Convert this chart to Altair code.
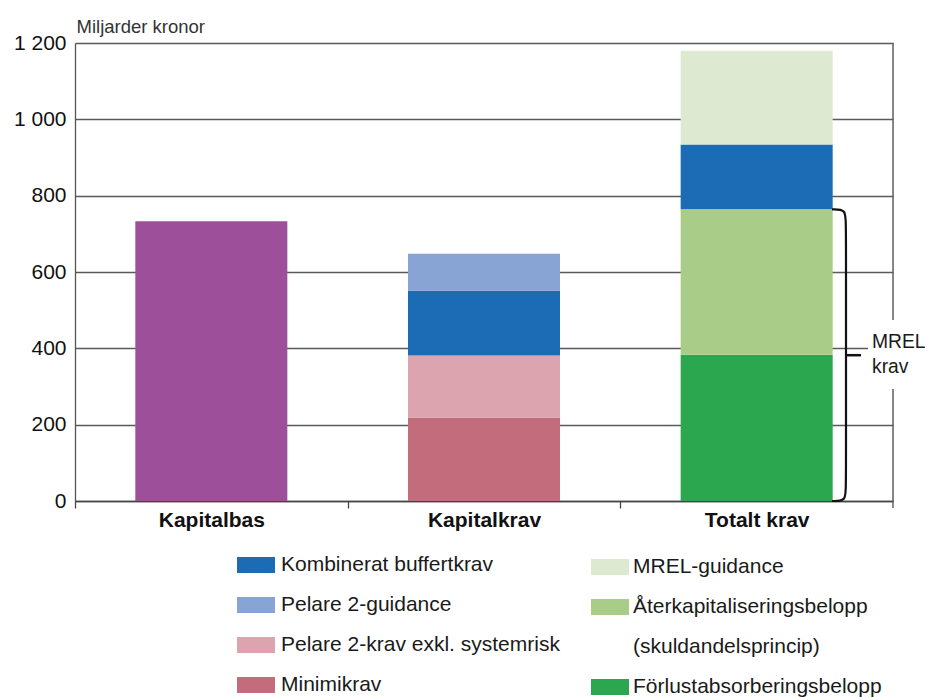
import altair as alt
import pandas as pd

# ---------------- data ----------------
categories = ["Kapitalbas", "Kapitalkrav", "Totalt krav"]
kapitalbas_value = 733

kapitalkrav_parts = ["Minimikrav", "Pelare 2-krav exkl. systemrisk",
                     "Kombinerat buffertkrav", "Pelare 2-guidance"]
kapitalkrav_values = [219, 162, 170, 97]

totalt_parts = ["Förlustabsorberingsbelopp", "Återkapitaliseringsbelopp",
                "Kombinerat buffertkrav", "MREL-guidance"]
totalt_values = [383, 381, 170, 246]

y_ticks = [0, 200, 400, 600, 800, 1000, 1200]

left_legend = ["Kombinerat buffertkrav", "Pelare 2-guidance",
               "Pelare 2-krav exkl. systemrisk", "Minimikrav"]
left_colors = ["#1B6BB5", "#87A4D4", "#DCA4AF", "#C36C7C"]
right_legend = ["MREL-guidance", "Återkapitaliseringsbelopp",
                "(skuldandelsprincip)", "Förlustabsorberingsbelopp"]
right_colors = ["#DDE9D1", "#A9CD88", "#ffffff", "#2BA750"]
purple = "#9D4F99"

# ---------------- tables ----------------
def stack(cat, parts, values):
    rows, base = [], 0
    for p, v in zip(parts, values):
        rows.append({"cat": cat, "part": p, "y0": base, "y1": base + v})
        base += v
    return rows

base_df = pd.DataFrame([{"cat": "Kapitalbas", "part": "Kapitalbas",
                         "y0": 0, "y1": kapitalbas_value}])
kk_rows = stack("Kapitalkrav", kapitalkrav_parts, kapitalkrav_values)
tk_rows = stack("Totalt krav", totalt_parts, totalt_values)
left_df = pd.DataFrame(kk_rows + [r for r in tk_rows if r["part"] in left_legend])
right_df = pd.DataFrame([r for r in tk_rows if r["part"] in right_legend])

W, H = 818, 458
FONT = "Liberation Sans"
px_per_unit = H / 1200
mrel_total = totalt_values[0] + totalt_values[1]
r = 13 / px_per_unit
brace_df = pd.DataFrame({
    "bx": [757, 771, 771, 771, 771, 757],
    "by": [mrel_total, mrel_total, mrel_total - r, r, 0, 0],
    "o": list(range(6)),
})

xscale = alt.Scale(domain=categories, paddingInner=0.4425, paddingOuter=0.2212)
yscale = alt.Scale(domain=[0, 1200], nice=False)

x_enc = alt.X("cat:N", scale=xscale, sort=categories, title=None,
              axis=alt.Axis(labelFontSize=21, labelFontWeight="bold", labelColor="#111",
                            labelAngle=0, tickSize=7, tickColor="#444", tickWidth=1.3,
                            domainColor="#444", domainWidth=1.5, bandPosition=0,
                            tickOffset=-60.3, labelOffset=60.3, labelPadding=1,
                            grid=False, labelFont=FONT))
y_enc = alt.Y("y0:Q", scale=yscale,
              axis=alt.Axis(values=y_ticks, ticks=False, labelPadding=9,
                            labelFontSize=21, labelColor="#111", labelFont=FONT,
                            labelExpr="replace(format(datum.value, ','), ',', ' ')",
                            domainColor="#555", domainWidth=1.3,
                            grid=True, gridColor="#5a5a5a", gridWidth=1.3,
                            title="Miljarder kronor", titleAngle=0, titleAlign="left",
                            titleX=1, titleY=-11, titleBaseline="alphabetic",
                            titleFontSize=18.5, titleFontWeight="normal",
                            titleColor="#333", titleFont=FONT))

sym = "M-1,-0.42H1V0.42H-1Z"

def legend(x, y, offset):
    return alt.Legend(orient="none", legendX=x, legendY=y, direction="vertical",
                      title=None, symbolType=sym, symbolSize=1444,
                      symbolStrokeWidth=0, labelFontSize=21, labelFont=FONT,
                      labelColor="#1a1a1a", labelOffset=offset, rowPadding=11,
                      labelLimit=400, padding=0, offset=0)

bars_base = alt.Chart(base_df).mark_bar(color=purple).encode(
    x=x_enc, y=y_enc, y2="y1:Q")

bars_left = alt.Chart(left_df).mark_bar().encode(
    x=alt.X("cat:N", scale=xscale, sort=categories),
    y=alt.Y("y0:Q", scale=yscale), y2="y1:Q",
    color=alt.Color("part:N", scale=alt.Scale(domain=left_legend, range=left_colors),
                    legend=legend(162, 503, 6)))

bars_right = alt.Chart(right_df).mark_bar().encode(
    x=alt.X("cat:N", scale=xscale, sort=categories),
    y=alt.Y("y0:Q", scale=yscale), y2="y1:Q",
    color=alt.Color("part:N", scale=alt.Scale(domain=right_legend, range=right_colors),
                    legend=legend(516, 505, 4)))

frame_right = alt.Chart().mark_rule(color="#5a5a5a", strokeWidth=1.4).encode(
    x=alt.value(W), y=alt.value(0), y2=alt.value(H + 7))

white_patch = alt.Chart().mark_rect(color="white").encode(
    x=alt.value(793), x2=alt.value(866), y=alt.value(277), y2=alt.value(346))

label = alt.Chart().mark_text(align="left", baseline="alphabetic", fontSize=19.3,
                              font=FONT, color="#1a1a1a", lineHeight=25).encode(
    x=alt.value(797), y=alt.datum(400, scale=yscale), text=alt.value(["MREL", "krav"]))

brace = alt.Chart(brace_df).mark_line(color="#111", strokeWidth=2.2,
                                      interpolate="basis").encode(
    x=alt.X("bx:Q", scale=None, axis=None),
    y=alt.Y("by:Q", scale=yscale), order="o:Q")

cusp = alt.Chart().mark_rule(color="#111", strokeWidth=2.5).encode(
    x=alt.value(771), x2=alt.value(786), y=alt.datum(mrel_total / 2))

chart = alt.layer(bars_base, bars_left, bars_right, frame_right, white_patch,
                  label, brace, cusp).resolve_scale(color="independent").properties(
    width=W, height=H,
    autosize=alt.AutoSizeParams(type="none"),
    padding={"left": 67, "top": 35, "right": 32, "bottom": 196},
).configure_view(stroke=None).configure(font=FONT)

chart.save("out.html", embed_options={"renderer": "svg", "actions": False})
